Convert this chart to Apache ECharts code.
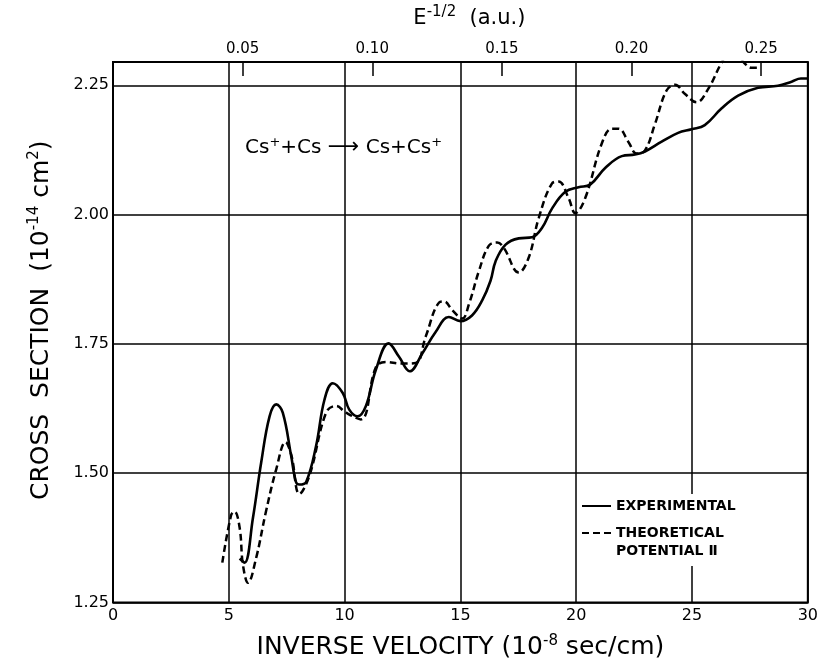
<!DOCTYPE html>
<html>
<head>
<meta charset="utf-8">
<script src="https://cdn.jsdelivr.net/npm/echarts@6/dist/echarts.min.js"></script>
<style>
  html, body { margin: 0; background: #fff; }
  #chart { width: 821px; height: 665px; }
</style>
</head>
<body>
<div id="chart"></div>
<script>
// experimental curve (inverse velocity, cross section)
const expX = [5.47, 5.68, 6.04, 6.4, 6.76, 7.05, 7.33, 7.69, 7.9, 8.05, 8.34, 8.77, 9.13, 9.49, 9.92, 10.2, 10.56, 10.92, 11.35, 11.9, 12.35, 12.81, 13.36, 13.93, 14.5, 15.0, 15.5, 15.94, 16.3, 16.52, 16.95, 17.52, 18.09, 18.52, 18.96, 19.53, 20.1, 20.6, 21.25, 21.97, 22.54, 22.97, 23.69, 24.4, 24.98, 25.55, 26.27, 26.99, 27.85, 28.71, 29.3, 29.7, 30];
const expY = [1.335, 1.327, 1.413, 1.521, 1.61, 1.633, 1.617, 1.534, 1.483, 1.478, 1.483, 1.553, 1.642, 1.674, 1.655, 1.623, 1.61, 1.63, 1.70, 1.751, 1.725, 1.697, 1.732, 1.773, 1.802, 1.794, 1.805, 1.834, 1.872, 1.91, 1.942, 1.954, 1.956, 1.974, 2.012, 2.044, 2.053, 2.058, 2.09, 2.113, 2.116, 2.122, 2.141, 2.158, 2.165, 2.173, 2.205, 2.23, 2.245, 2.249, 2.257, 2.263, 2.263];

// theoretical curve, potential II
const theoX = [4.72, 5.1, 5.25, 5.47, 5.61, 5.83, 6.18, 6.6, 7.05, 7.45, 7.7, 8.05, 8.48, 9.2, 9.63, 10.06, 10.7, 11.35, 11.78, 12.43, 13.07, 13.5, 14.08, 14.3, 14.65, 15.08, 15.37, 15.8, 16.23, 16.59, 16.87, 17.52, 17.95, 18.38, 18.95, 19.24, 19.67, 19.96, 20.39, 21.1, 21.54, 21.83, 22.26, 22.61, 22.97, 23.4, 23.9, 24.27, 24.7, 25.2, 25.7, 26.27, 26.7, 27.28, 27.56, 27.85];
const theoY = [1.327, 1.419, 1.426, 1.394, 1.323, 1.288, 1.336, 1.425, 1.508, 1.56, 1.535, 1.46, 1.495, 1.617, 1.63, 1.617, 1.604, 1.705, 1.715, 1.712, 1.713, 1.764, 1.83, 1.832, 1.815, 1.799, 1.827, 1.891, 1.94, 1.946, 1.936, 1.888, 1.917, 1.993, 2.06, 2.064, 2.032, 2.003, 2.032, 2.137, 2.166, 2.166, 2.14, 2.118, 2.124, 2.175, 2.24, 2.251, 2.233, 2.217, 2.243, 2.293, 2.32, 2.292, 2.284, 2.284];

const topTicks = [0.05, 0.10, 0.15, 0.20, 0.25];
const yTicks = [1.25, 1.50, 1.75, 2.00, 2.25];

const FONT = 'DejaVu Sans';
const sup = { fontSize: 15, verticalAlign: 'top', padding: [0, 0, 13, 0], fontFamily: FONT, color: '#000' };

const chart = echarts.init(document.getElementById('chart'));

chart.setOption({
  backgroundColor: '#fff',
  animation: false,
  grid: {
    left: 113, right: 11, top: 60, bottom: 60,
    show: true, borderColor: '#000', borderWidth: 2
  },
  legend: {
    orient: 'vertical',
    left: 581, top: 494,
    backgroundColor: '#fff',
    padding: [3, 20, 6, 0],
    itemWidth: 29, itemHeight: 12, itemGap: -9,
    selectedMode: false,
    itemStyle: { opacity: 0 },
    textStyle: { fontFamily: FONT, fontSize: 14, fontWeight: 'bold', color: '#000', lineHeight: 18 },
    data: [
      { name: 'EXPERIMENTAL' },
      { name: 'THEORETICAL\nPOTENTIAL Ⅱ' }
    ],
    formatter: name => name.indexOf('\n') > 0 ? '\u00a0\n' + name : name
  },
  xAxis: [
    {
      type: 'value', min: 0, max: 30, interval: 5,
      name: 'INVERSE VELOCITY (10{s|-8} sec/cm)',
      nameLocation: 'middle', nameGap: 31,
      nameTextStyle: { fontFamily: FONT, fontSize: 25, color: '#000', rich: { s: sup } },
      axisLine: { show: false },
      axisTick: { show: false },
      axisLabel: { fontFamily: FONT, fontSize: 16, color: '#000', margin: 5 },
      splitLine: { lineStyle: { color: '#000', width: 1.5 } }
    },
    {
      type: 'value', position: 'top', min: 0, max: 0.268, interval: 0.05,
      name: 'E{s|-1/2}  (a.u.)',
      nameLocation: 'middle', nameGap: 29,
      nameTextStyle: { fontFamily: FONT, fontSize: 21, color: '#000', padding: [0, 0, 0, 18], rich: { s: sup } },
      axisLine: { show: false },
      axisTick: { show: true, inside: true, length: 14, lineStyle: { color: '#000', width: 1.5 } },
      axisLabel: {
        fontFamily: FONT, fontSize: 15, color: '#000', margin: 5,
        formatter: v => topTicks.some(t => Math.abs(t - v) < 1e-6) ? v.toFixed(2) : ''
      },
      splitLine: { show: false }
    }
  ],
  yAxis: {
    type: 'value', min: 1.25, max: 2.295, interval: 0.25,
    name: 'CROSS  SECTION  (10{s|-14} cm{s|2})',
    nameLocation: 'middle', nameGap: 58, nameRotate: 90,
    nameTextStyle: { fontFamily: FONT, fontSize: 25, color: '#000', padding: [0, 0, 0, 24], rich: { s: sup } },
    axisLine: { show: false },
    axisTick: { show: false },
    axisLabel: {
      fontFamily: FONT, fontSize: 16, color: '#000', margin: 4,
      formatter: v => yTicks.some(t => Math.abs(t - v) < 1e-6) ? v.toFixed(2) : ''
    },
    splitLine: { lineStyle: { color: '#000', width: 1.5 } }
  },
  graphic: [{
    type: 'text',
    left: 245, top: 136,
    style: {
      text: 'Cs{s|+}+Cs {a|⟶} Cs+Cs{s|+}',
      fontFamily: FONT, fontSize: 20, fill: '#000',
      rich: {
        s: { fontSize: 13, verticalAlign: 'top', padding: [0, 0, 10, 0], fontFamily: FONT },
        a: { fontSize: 22, fontFamily: FONT }
      }
    }
  }],
  series: [
    {
      name: 'EXPERIMENTAL', type: 'line', xAxisIndex: 0,
      data: expX.map((x, i) => [x, expY[i]]),
      showSymbol: false, symbol: 'none', smooth: 0.4,
      itemStyle: { color: '#000' },
      lineStyle: { color: '#000', width: 2.6 },
      z: 3
    },
    {
      name: 'THEORETICAL\nPOTENTIAL Ⅱ', type: 'line', xAxisIndex: 0,
      data: theoX.map((x, i) => [x, theoY[i]]),
      showSymbol: false, symbol: 'none', smooth: 0.4,
      itemStyle: { color: '#000' },
      lineStyle: { color: '#000', width: 2.5, type: [7, 4] },
      z: 2
    }
  ]
});
</script>
</body>
</html>
